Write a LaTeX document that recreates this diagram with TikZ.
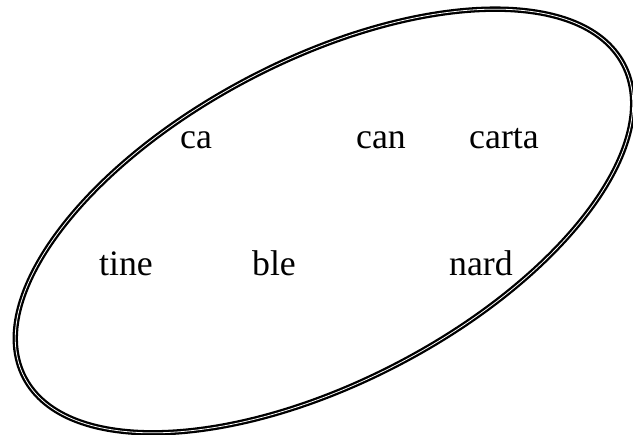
\documentclass[tikz,border=0pt]{standalone}
\usepackage{fontspec}
\setmainfont{Liberation Serif}
\usepackage{tikz}
\usetikzlibrary{positioning}
\tikzset{
  word/.style={anchor=base,inner sep=0pt,font=\fontsize{35.8}{43}\selectfont},
  setline/.style={draw=black,double=white,line width=2.3pt,double distance=0.8pt},
}
\begin{document}
\begin{tikzpicture}[x=1pt,y=1pt]
  \useasboundingbox (0,0) rectangle (633,435);
  \draw[setline] (324,214) ellipse [x radius=338,y radius=161,rotate=27.6];
  \foreach \n/\x/\y in {ca/196/286,can/381/286,carta/504/286,tine/126/159,ble/274/159,nard/481/159}{
     \node[word] (\n) at (\x,\y) {\n};}
\end{tikzpicture}
\end{document}
